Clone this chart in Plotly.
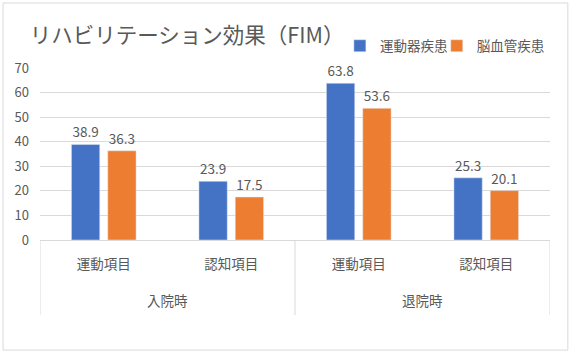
import plotly.graph_objects as go

periods = ["入院時", "入院時", "退院時", "退院時"]
items = ["運動項目", "認知項目", "運動項目", "認知項目"]
series_names = ["運動器疾患", "脳血管疾患"]
musculo = [38.9, 23.9, 63.8, 25.3]
cerebro = [36.3, 17.5, 53.6, 20.1]
colors = ["#4472C4", "#ED7D31"]

FONT = "Noto Sans CJK JP"
GRAY = "#595959"
LINE = "#D9D9D9"

keys = [f"{p}|{i}" for p, i in zip(periods, items)]
legend_ids = ["legend", "legend2"]
legend_x = [0.588, 0.778]

fig = go.Figure()
for name, vals, c, lg in zip(series_names, [musculo, cerebro], colors, legend_ids):
    fig.add_trace(go.Bar(
        x=keys, y=vals, name=name, marker_color=c, legend=lg,
        text=[f"{v:.1f}" for v in vals], textposition="outside",
        textfont=dict(size=13.5, color=GRAY, family=FONT), cliponaxis=False,
    ))

legend_style = dict(orientation="h", xanchor="left", y=1.128, yanchor="middle",
                    font=dict(size=13.5, color=GRAY, family=FONT), bgcolor="rgba(0,0,0,0)",
                    itemwidth=30)

fig.update_layout(
    width=571, height=354,
    margin=dict(l=40, r=21, t=68, b=114, autoexpand=False),
    paper_bgcolor="white", plot_bgcolor="white",
    font=dict(family=FONT, color=GRAY, size=13),
    barmode="group", bargap=0.43, bargroupgap=0.22,
    title=dict(text="リハビリテーション効果（FIM）", xref="container", x=0.052, xanchor="left",
               yref="container", y=0.9, yanchor="middle",
               font=dict(size=21.5, color=GRAY, family=FONT)),
    legend=dict(x=legend_x[0], **legend_style),
    legend2=dict(x=legend_x[1], **legend_style),
    showlegend=True,
)
fig.update_yaxes(range=[0, 70], dtick=10, showgrid=True, gridcolor=LINE, gridwidth=1,
                 zeroline=False, showline=False, ticks="", ticklabelstandoff=10,
                 tickfont=dict(size=13, color=GRAY, family=FONT))
fig.update_xaxes(type="category", tickvals=keys, ticktext=items, range=[-0.5, len(keys) - 0.5],
                 showline=True, linecolor=LINE, linewidth=1, ticks="", ticklabelstandoff=12,
                 tickfont=dict(size=13.5, color=GRAY, family=FONT))

# top-level category labels and dividers
uniq = []
for p in periods:
    if p not in uniq:
        uniq.append(p)
bounds = [-0.5]
for p in uniq:
    idx = [k for k, q in enumerate(periods) if q == p]
    mid = (idx[0] + idx[-1]) / 2
    fig.add_annotation(x=mid, xref="x", y=-0.35, yref="paper", text=p, showarrow=False,
                       yanchor="middle", font=dict(size=13.5, color=GRAY, family=FONT))
    bounds.append(idx[-1] + 0.5)
for b in bounds:
    fig.add_shape(type="line", xref="x", yref="paper", x0=b, x1=b, y0=0, y1=-0.436,
                  line=dict(color=LINE, width=1))

# chart border
fig.add_shape(type="rect", xref="paper", yref="paper", x0=-0.0725, x1=1.035, y0=-0.64, y1=1.378,
              line=dict(color=LINE, width=1), fillcolor="rgba(0,0,0,0)", layer="below")

fig.write_html("out.html")
